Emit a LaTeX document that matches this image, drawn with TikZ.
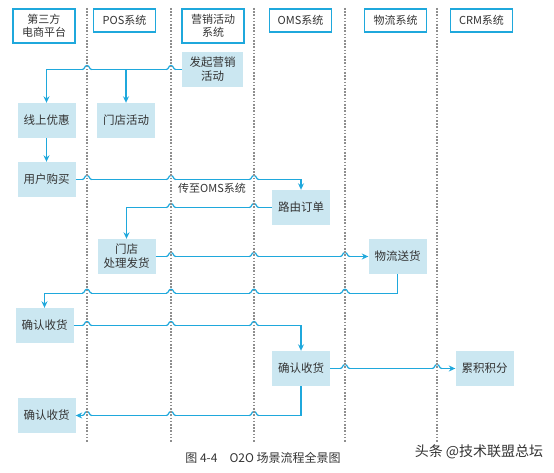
\documentclass[tikz,border=0pt]{standalone}
\usepackage{fontspec}
\setmainfont{Noto Sans CJK SC}
\usetikzlibrary{positioning,arrows.meta}
\definecolor{laneblue}{HTML}{1FA8DC}
\definecolor{boxblue}{HTML}{CBE7F1}
\definecolor{dotgray}{HTML}{8E8E8E}
\definecolor{textgray}{HTML}{333333}
\tikzset{
  lanehead/.style={draw=laneblue, line width=1.3pt, fill=white, text=textgray, align=center,
    inner sep=0pt, minimum width=62pt, minimum height=23pt, font=\fontsize{11}{13}\selectfont},
  flowbox/.style={fill=boxblue, text=textgray, align=center, inner sep=0pt,
    minimum width=58pt, minimum height=35pt, font=\fontsize{11.5}{14}\selectfont},
  flow/.style={draw=laneblue, line width=1.2pt},
  flowarrow/.style={flow, -{Stealth[length=6.5pt,width=6pt]}},
  jump/.pic={
    \fill[white] (-3.8,-1.2) rectangle (3.8,1.2);
    \draw[flow] (-4.8,0) .. controls (-2,0) and (-2.8,-4) .. (0,-4)
      .. controls (2.8,-4) and (2,0) .. (4.8,0);
  }
}

\begin{document}
\begin{tikzpicture}[x=1pt,y=-1pt]
  \useasboundingbox (0,0) rectangle (554,473);

  % lane headers
  \node[lanehead, minimum height=34pt] (hThird) at (44,26) {第三方\\电商平台};
  \node[lanehead] (hPOS) at (124.5,20.5) {POS系统};
  \node[lanehead, minimum height=34pt] (hMkt) at (213,26) {营销活动\\系统};
  \node[lanehead] (hOMS) at (300.5,20.5) {OMS系统};
  \node[lanehead] (hLog) at (395.5,20.5) {物流系统};
  \node[lanehead] (hCRM) at (481.5,20.5) {CRM系统};

  % lane dividers
  \foreach \x [count=\i] in {87,171,254,345,437} {
    \coordinate (d\i) at (\x,8);
    \coordinate (e\i) at (\x,442);
  }

  % steps
  \node[flowbox, minimum width=61pt] (mkt) at (212.5,69.5) {发起营销\\活动};
  \node[flowbox] (online) at (46.5,120.5) {线上优惠};
  \node[flowbox] (store) at (126,120.5) {门店活动};
  \node[flowbox] (buy) at (46.5,179.5) {用户购买};
  \node[flowbox] (route) at (301,207.5) {路由订单};
  \node[flowbox] (ship) at (126.5,256.5) {门店\\处理发货};
  \node[flowbox] (logis) at (397.5,256.5) {物流送货};
  \node[flowbox] (confirmA) at (44.5,325.5) {确认收货};
  \node[flowbox] (confirmB) at (301,368.5) {确认收货};
  \node[flowbox] (points) at (484.5,368.5) {累积积分};
  \node[flowbox] (confirmC) at (46.5,415.5) {确认收货};

  % connectors
  \draw[flowarrow] (mkt.west) -| (online.north);
  \draw[flowarrow] (store.north |- mkt.west) -- (store.north);
  \draw[flowarrow] (online.south) -- (buy.north);
  \draw[flowarrow] (buy.east) -| (route.north);
  \draw[flowarrow] (route.west) -| (ship.north);
  \draw[flowarrow] (ship.east) -- (logis.west);
  \draw[flowarrow] (logis.south) -- ++(0,19) coordinate (back) -| (confirmA.north);
  \draw[flowarrow] (confirmA.east) -| (confirmB.north);
  \draw[flowarrow] (confirmB.east) -- (points.west);
  \draw[flowarrow] (confirmB.south) |- (confirmC.east);
  \node[text=textgray, font=\fontsize{11}{13}\selectfont] (sendLabel) at (212,188) {传至OMS系统};

  % line jumps
  \foreach \d/\a in {d1/mkt.west, d2/mkt.west,
      d1/buy.east, d2/buy.east, d3/buy.east,
      d2/route.west, d3/route.west,
      d2/ship.east, d3/ship.east, d4/ship.east,
      d1/back, d2/back, d3/back, d4/back,
      d1/confirmA.east, d2/confirmA.east, d3/confirmA.east,
      d4/confirmB.east, d5/confirmB.east,
      d1/confirmC.east, d2/confirmC.east, d3/confirmC.east}
    \pic at (\d |- \a) {jump};

  \foreach \i in {1,...,5}
    \draw[dotgray, line width=1.1pt, dash pattern=on 1.6pt off 1.6pt] (d\i) -- (e\i);

  % caption
  \node[text=textgray, font=\fontsize{12}{14}\selectfont] (caption) at (263,458) {图 4-4\quad O2O 场景流程全景图};
  \node[text=textgray, font=\fontsize{14}{16}\selectfont] (mark) at (479,452) {头条 @技术联盟总坛};
\end{tikzpicture}
\end{document}
